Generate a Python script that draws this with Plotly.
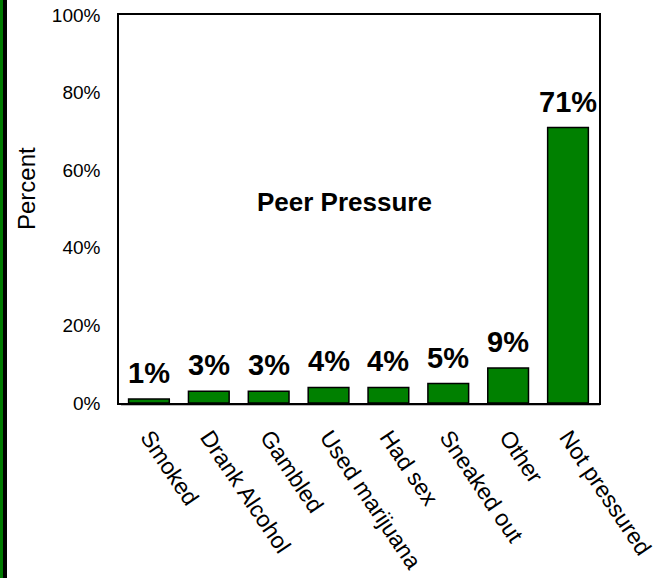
import plotly.graph_objects as go

categories = ["Smoked", "Drank Alcohol", "Gambled", "Used marijuana", "Had sex",
              "Sneaked out", "Other", "Not pressured"]
values = [1, 3, 3, 4, 4, 5, 9, 71]
labels = ["1%", "3%", "3%", "4%", "4%", "5%", "9%", "71%"]
y_ticks = [0, 20, 40, 60, 80, 100]
y_tick_text = ["0%", "20%", "40%", "60%", "80%", "100%"]

W, H = 668, 578
L, R, T, B = 119, 69, 15, 175
pw = W - L - R
ph = H - T - B

fig = go.Figure(go.Bar(
    x=categories, y=values,
    marker=dict(color="#008000", line=dict(color="black", width=1.5)),
    cliponaxis=False,
))

value_labels = [
    dict(x=c, y=v, text="<b>" + t + "</b>", xref="x", yref="y", showarrow=False,
         xanchor="center", yanchor="bottom", yshift=8,
         font=dict(family="Arial, Liberation Sans", size=29, color="black"))
    for c, v, t in zip(categories, values, labels)
]

fig.update_layout(
    width=W, height=H,
    margin=dict(l=L, r=R, t=T, b=B, autoexpand=False),
    paper_bgcolor="white", plot_bgcolor="white",
    bargap=0.32, showlegend=False,
    font=dict(family="Arial, Liberation Sans", color="black"),
    xaxis=dict(
        tickangle=56, tickfont=dict(size=23), showgrid=False, automargin=False,
        showline=True, linecolor="black", linewidth=1.5, mirror=True,
        ticks="", ticklabelstandoff=10,
    ),
    yaxis=dict(
        range=[0, 100], tickvals=y_ticks, ticktext=y_tick_text, automargin=False,
        tickfont=dict(size=19), showgrid=False, zeroline=False,
        showline=True, linecolor="black", linewidth=1.5, mirror=True,
        ticks="", ticklabelstandoff=13,
    ),
    annotations=value_labels + [
        dict(text="<b>Peer Pressure</b>", x=(344 - L) / pw, y=(T + ph - 202) / ph,
             xref="paper", yref="paper", showarrow=False,
             xanchor="center", yanchor="middle",
             font=dict(size=26, color="black")),
        dict(text="Percent", textangle=-90, x=(27 - L) / pw, y=(T + ph - 189) / ph,
             xref="paper", yref="paper", showarrow=False,
             xanchor="center", yanchor="middle",
             font=dict(size=24, color="black")),
    ],
    shapes=[
        dict(type="line", xref="paper", yref="paper",
             x0=2 / pw, x1=1 + 1 / pw, y0=-2 / ph, y1=-2 / ph,
             line=dict(color="#a0a0a0", width=1.5), layer="below"),
        dict(type="rect", xref="paper", yref="paper",
             x0=(0 - L) / pw, x1=(3 - L) / pw, y0=-B / ph, y1=(H - B) / ph,
             fillcolor="#007a00", line=dict(width=0), layer="above"),
        dict(type="rect", xref="paper", yref="paper",
             x0=(3 - L) / pw, x1=(7 - L) / pw, y0=-B / ph, y1=(H - B) / ph,
             fillcolor="black", line=dict(width=0), layer="above"),
    ],
)

fig.write_html("out.html", config={"displayModeBar": False},
               post_script="document.body.style.margin='0';document.body.style.padding='0';")
